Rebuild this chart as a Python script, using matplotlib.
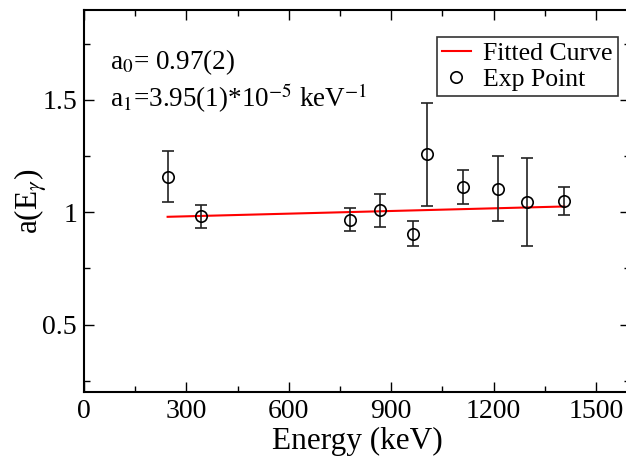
import matplotlib
matplotlib.use("Agg")
import matplotlib.pyplot as plt
import numpy as np
from matplotlib.ticker import MultipleLocator
from matplotlib.lines import Line2D

plt.rcParams['font.family'] = ['Liberation Serif', 'DejaVu Serif']
plt.rcParams['mathtext.fontset'] = 'stix'

energy = [245, 344, 779, 867, 964, 1005, 1112, 1213, 1299, 1408]
a_val = [1.159, 0.983, 0.967, 1.008, 0.905, 1.258, 1.112, 1.105, 1.046, 1.051]
a_err = [0.115, 0.051, 0.050, 0.072, 0.056, 0.230, 0.076, 0.144, 0.197, 0.062]
a0 = 0.970
a1 = 3.95e-5
fit_x = [245, 1408]

fig = plt.figure(figsize=(6.26, 4.61), dpi=100)
ax = fig.add_axes([84/626, 1-392/461, 546/626, 382/461])

fx = np.array(fit_x)
ax.plot(fx, a0 + a1*fx, color='red', lw=1.5, zorder=2)
ax.errorbar(energy, a_val, yerr=a_err, fmt='o', mfc='none', mec='black',
            ms=8.2, mew=1.2, ecolor='#222222', elinewidth=1.2, capsize=4,
            capthick=1.2, zorder=3)

ax.set_xlim(0, 1600)
ax.set_ylim(0.2, 1.9)
ax.xaxis.set_major_locator(MultipleLocator(300))
ax.xaxis.set_minor_locator(MultipleLocator(150))
ax.yaxis.set_major_locator(MultipleLocator(0.5))
ax.yaxis.set_minor_locator(MultipleLocator(0.25))
ax.yaxis.set_major_formatter(matplotlib.ticker.FuncFormatter(lambda v, p: ('%g' % v)))
ax.tick_params(which='both', direction='in', top=True, right=True, labelsize=20, width=1)
ax.tick_params(which='major', length=7, pad=5)
ax.tick_params(which='minor', length=4)
for s in ax.spines.values():
    s.set_linewidth(1.5)

ax.set_xlabel('Energy (keV)', fontsize=22.5, labelpad=2)
ax.set_ylabel(r'a(E$_\gamma$)', fontsize=22.5)
ax.yaxis.set_label_coords(-0.063, 0.5)

ax.text(0.048, 0.845, r'a$_0$= 0.97(2)', transform=ax.transAxes, fontsize=19.5)
ax.text(0.048, 0.745, r'a$_1$=3.95(1)*10$^{-5}$ keV$^{-1}$', transform=ax.transAxes, fontsize=19.5)

handles = [Line2D([], [], color='red', lw=1.5),
           Line2D([], [], ls='none', marker='o', mfc='none', mec='black', ms=8.2, mew=1.2)]
leg = ax.legend(handles, ['Fitted Curve', 'Exp Point'], loc='upper right',
                bbox_to_anchor=((618-84)/546, (392-37)/382),
                fontsize=18.5, frameon=True, fancybox=False, edgecolor='black',
                handlelength=1.1, handletextpad=0.5, borderpad=0.2, labelspacing=0.12,
                borderaxespad=0)
leg.get_frame().set_linewidth(1.2)

fig.savefig('out.png', dpi=100)
